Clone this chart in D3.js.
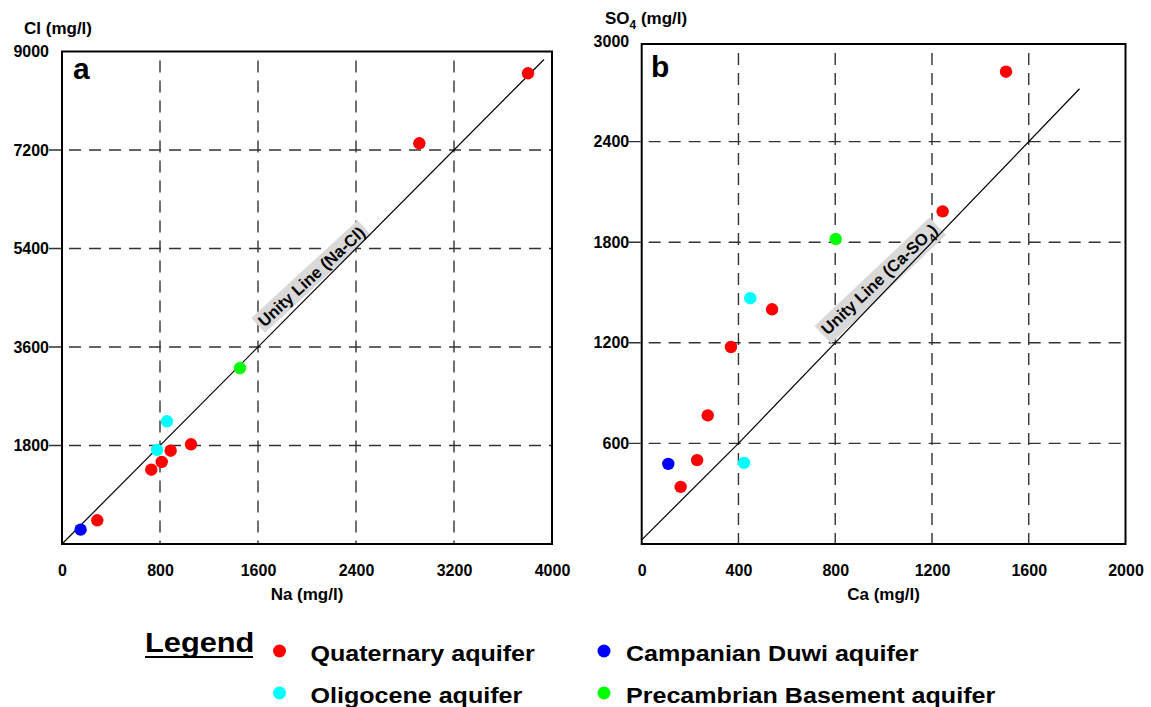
<!DOCTYPE html>
<html>
<head>
<meta charset="utf-8">
<script src="https://cdn.jsdelivr.net/npm/d3@7"></script>
<style>
    body { margin: 0; background: #fff; }
    svg { display: block; font-family: "Liberation Sans", Arial, sans-serif; }
    .axis text { font-family: "Liberation Sans", Arial, sans-serif; font-size: 16px; font-weight: bold; fill: #000; }
    .grid line { stroke: #333; stroke-width: 1.4; stroke-dasharray: 12 8; }
    .title { font-size: 17px; font-weight: bold; fill: #000; }
</style>
</head>
<body>
<div id="chart"></div>
<script>
// aquifer groups (shared by both panels and the legend)
const aquiferKeys = ["Q", "O", "C", "P"];
const aquiferNames = ["Quaternary aquifer", "Oligocene aquifer", "Campanian Duwi aquifer", "Precambrian Basement aquifer"];
const aquiferColors = ["#ff0000", "#00ffff", "#0000ff", "#00ff00"];

// panel a: Na vs Cl (mg/l)
const naValues = [3804, 2917, 1053, 887, 814, 729, 288, 857, 776, 152, 1453];
const clValues = [8602, 7322, 1822, 1705, 1499, 1358, 433, 2242, 1718, 262, 3216];
const aquiferA = ["Q", "Q", "Q", "Q", "Q", "Q", "Q", "O", "O", "C", "P"];

// panel b: Ca vs SO4 (mg/l)
const caValues = [1506, 1244, 539, 369, 273, 229, 161, 449, 423, 110, 802];
const so4Values = [2817, 1984, 1400, 1175, 767, 500, 341, 1466, 484, 478, 1819];
const aquiferB = ["Q", "Q", "Q", "Q", "Q", "Q", "Q", "O", "O", "C", "P"];

// tick labels
const naTicks = [0, 800, 1600, 2400, 3200, 4000];
const clTicks = [1800, 3600, 5400, 7200, 9000];
const caTicks = [0, 400, 800, 1200, 1600, 2000];
const so4Ticks = [600, 1200, 1800, 2400, 3000];

// unity lines (data units)
const unityNaX = [0, 3935];
const unityClY = [0, 8854];
const unityCaX = [0, 400, 1810];
const unitySo4Y = [25, 600, 2715];

const WIDTH = 1151;
const HEIGHT = 707;

class ScatterPanel {
    constructor(svg, config) {
        this.svg = svg;
        this.config = config;
        this.initVis();
    }

    initVis() {
        let vis = this;
        let c = vis.config;

        vis.g = vis.svg.append("g");

        vis.x = d3.scaleLinear().domain(c.xDomain).range([c.left, c.right]);
        vis.y = d3.scaleLinear().domain(c.yDomain).range([c.bottom, c.top]);

        // dashed grid
        let grid = vis.g.append("g").attr("class", "grid");
        grid.selectAll(".v").data(c.xTicks.slice(1, -1)).join("line")
            .attr("class", "v")
            .attr("x1", d => vis.x(d)).attr("x2", d => vis.x(d))
            .attr("y1", c.frameTop + 9).attr("y2", c.bottom);
        grid.selectAll(".h").data(c.yTicks.slice(0, -1)).join("line")
            .attr("class", "h")
            .attr("x1", c.left - 13).attr("x2", c.right)
            .attr("y1", d => vis.y(d)).attr("y2", d => vis.y(d));

        // axes (labels only)
        vis.g.append("g").attr("class", "axis")
            .attr("transform", "translate(0," + c.bottom + ")")
            .call(d3.axisBottom(vis.x).tickValues(c.xTicks).tickFormat(d3.format("d")).tickSize(0).tickPadding(21))
            .call(g => g.select(".domain").remove());
        vis.g.append("g").attr("class", "axis")
            .attr("transform", "translate(" + c.left + ",0)")
            .call(d3.axisLeft(vis.y).tickValues(c.yTicks).tickFormat(d3.format("d")).tickSize(0).tickPadding(c.yPad))
            .call(g => g.select(".domain").remove());

        // frame
        vis.g.append("rect")
            .attr("x", c.left).attr("y", c.frameTop)
            .attr("width", c.right - c.left).attr("height", c.bottom - c.frameTop)
            .attr("fill", "none").attr("stroke", "#000").attr("stroke-width", 2);

        // titles
        vis.g.append("text").attr("class", "title")
            .attr("x", (c.left + c.right) / 2).attr("y", 600)
            .attr("text-anchor", "middle")
            .text(c.xTitle);
        vis.addParts(vis.g.append("text").attr("class", "title")
            .attr("x", c.yTitleX).attr("y", c.yTitleY), c.yTitle);

        vis.g.append("text")
            .attr("x", c.letterX).attr("y", c.letterY)
            .attr("font-size", 30).attr("font-weight", "bold")
            .text(c.letter);

        vis.wrangleData();
    }

    addParts(text, parts) {
        parts.forEach((p, i) => {
            let t = text.append("tspan").text(p.t);
            if (p.sub) t.attr("font-size", "0.7em").attr("dy", 5);
            else if (i > 0 && parts[i - 1].sub) t.attr("dy", -5);
        });
    }

    wrangleData() {
        let vis = this;
        let c = vis.config;

        vis.displayData = c.xs.map((d, i) => ({x: d, y: c.ys[i], group: c.groups[i]}));
        vis.unity = c.unityX.map((d, i) => [d, c.unityY[i]]);

        vis.updateVis();
    }

    updateVis() {
        let vis = this;
        let c = vis.config;

        let color = d3.scaleOrdinal().domain(aquiferKeys).range(aquiferColors);

        // unity line label: anchored at its end on the line, tilted a little flatter than the line
        let along = d3.scaleLinear().domain(c.unityX).range(c.unityY);
        let p0 = vis.unity[0], p1 = vis.unity[vis.unity.length - 1];
        let angle = Math.atan2(vis.y(p1[1]) - vis.y(p0[1]), vis.x(p1[0]) - vis.x(p0[0])) * 180 / Math.PI;
        angle += c.labelTilt;
        let lx = vis.x(c.labelAt), ly = vis.y(along(c.labelAt));
        let tr = "translate(" + lx + "," + ly + ") rotate(" + angle + ")";

        let bgLayer = vis.g.append("g").attr("transform", tr);

        vis.g.append("path")
            .datum(vis.unity)
            .attr("d", d3.line().x(d => vis.x(d[0])).y(d => vis.y(d[1])))
            .attr("fill", "none").attr("stroke", "#000").attr("stroke-width", 1.2);

        let label = vis.g.append("g").attr("transform", tr)
            .append("text")
            .attr("y", -3)
            .attr("text-anchor", "end")
            .attr("font-size", 16.5).attr("font-weight", "bold");
        vis.addParts(label, c.unityLabel);

        let bb = label.node().getBBox();
        bgLayer.append("rect")
            .attr("x", bb.x - 3).attr("y", bb.y - 1)
            .attr("width", bb.width + 6).attr("height", bb.height + 2)
            .attr("fill", "#d9d9d9");

        vis.g.append("g").selectAll("circle").data(vis.displayData).join("circle")
            .attr("cx", d => vis.x(d.x))
            .attr("cy", d => vis.y(d.y))
            .attr("r", 6.2)
            .attr("fill", d => color(d.group));
    }
}

let svg = d3.select("#chart").append("svg")
    .attr("width", WIDTH).attr("height", HEIGHT);

svg.append("rect").attr("width", WIDTH).attr("height", HEIGHT).attr("fill", "#fff");

new ScatterPanel(svg, {
    left: 62, right: 552, top: 51.5, frameTop: 51.5, bottom: 544,
    xDomain: [0, 4000], yDomain: [0, 9000],
    xTicks: naTicks, yTicks: clTicks, yPad: 13,
    xs: naValues, ys: clValues, groups: aquiferA,
    unityX: unityNaX, unityY: unityClY, labelAt: 2500, labelTilt: 2.5,
    unityLabel: [{t: "Unity Line (Na-Cl)"}],
    xTitle: "Na (mg/l)",
    yTitle: [{t: "Cl (mg/l)"}], yTitleX: 24, yTitleY: 34,
    letter: "a", letterX: 73, letterY: 79
});

new ScatterPanel(svg, {
    left: 641.7, right: 1125.5, top: 41, frameTop: 44, bottom: 544,
    xDomain: [0, 2000], yDomain: [0, 3000],
    xTicks: caTicks, yTicks: so4Ticks, yPad: 12.5,
    xs: caValues, ys: so4Values, groups: aquiferB,
    unityX: unityCaX, unityY: unitySo4Y, labelAt: 1235, labelTilt: 2.5,
    unityLabel: [{t: "Unity Line (Ca-SO"}, {t: "4", sub: true}, {t: ")"}],
    xTitle: "Ca (mg/l)",
    yTitle: [{t: "SO"}, {t: "4", sub: true}, {t: " (mg/l)"}], yTitleX: 605, yTitleY: 24,
    letter: "b", letterX: 651, letterY: 77
});

// legend
const legendCols = [279.5, 604];
const legendRows = [651, 693];
const legendTextGap = [31, 22];

let legend = svg.append("g");

legend.append("text")
    .attr("transform", "translate(145,652) scale(1.14,1)")
    .attr("font-size", 27).attr("font-weight", "bold")
    .text("Legend");
legend.append("line")
    .attr("x1", 145).attr("x2", 253)
    .attr("y1", 657).attr("y2", 657)
    .attr("stroke", "#000").attr("stroke-width", 2);

aquiferKeys.forEach((k, i) => {
    let col = i < 2 ? 0 : 1;
    let row = i % 2;
    let cx = legendCols[col], cy = legendRows[row];
    legend.append("circle")
        .attr("cx", cx).attr("cy", cy).attr("r", 6.5)
        .attr("fill", aquiferColors[i]);
    legend.append("text")
        .attr("transform", "translate(" + (cx + legendTextGap[col]) + "," + (cy + 10) + ") scale(1.14,1)")
        .attr("font-size", 22).attr("font-weight", "bold")
        .text(aquiferNames[i]);
});
</script>
</body>
</html>
